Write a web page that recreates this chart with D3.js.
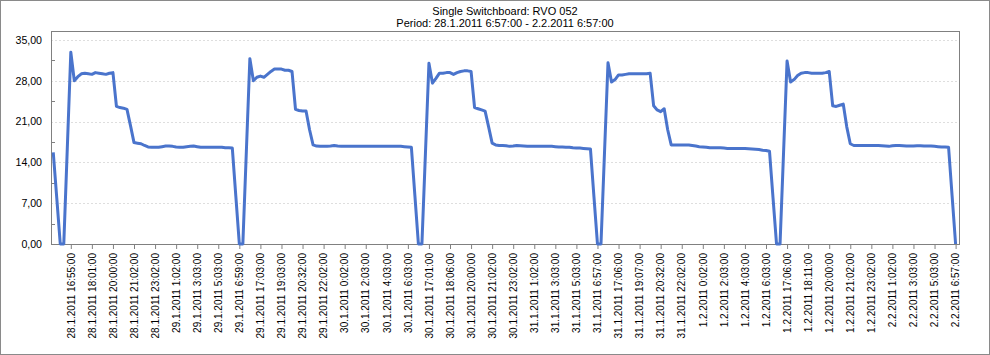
<!DOCTYPE html>
<html><head><meta charset="utf-8">
<script src="https://cdn.jsdelivr.net/npm/d3@7/dist/d3.min.js"></script>
<style>
html,body{margin:0;padding:0;background:#fff;}
svg{display:block;font-family:"Liberation Sans",Arial,sans-serif;}
</style></head>
<body>
<svg id="chart" width="990" height="355"></svg>
<script>
const titleLines = ["Single Switchboard: RVO 052", "Period: 28.1.2011 6:57:00 - 2.2.2011 6:57:00"];

const tickLabels = [
  "28.1.2011 16:55:00","28.1.2011 18:01:00","28.1.2011 20:00:00","28.1.2011 21:02:00","28.1.2011 23:02:00",
  "29.1.2011 1:02:00","29.1.2011 3:03:00","29.1.2011 5:03:00","29.1.2011 6:59:00","29.1.2011 17:03:00",
  "29.1.2011 19:03:00","29.1.2011 20:32:00","29.1.2011 22:02:00","30.1.2011 0:02:00","30.1.2011 2:03:00",
  "30.1.2011 4:03:00","30.1.2011 6:03:00","30.1.2011 17:01:00","30.1.2011 18:06:00","30.1.2011 20:00:00",
  "30.1.2011 21:02:00","30.1.2011 23:02:00","31.1.2011 1:02:00","31.1.2011 3:03:00","31.1.2011 5:03:00",
  "31.1.2011 6:57:00","31.1.2011 17:06:00","31.1.2011 19:07:00","31.1.2011 20:32:00","31.1.2011 22:02:00",
  "1.2.2011 0:02:00","1.2.2011 2:03:00","1.2.2011 4:03:00","1.2.2011 6:03:00","1.2.2011 17:06:00",
  "1.2.2011 18:11:00","1.2.2011 20:00:00","1.2.2011 21:02:00","1.2.2011 23:02:00","2.2.2011 1:02:00",
  "2.2.2011 3:03:00","2.2.2011 5:03:00","2.2.2011 6:57:00"
];
// every 6th sample carries a label, the first label sits on sample 5
const labelEvery = 6;
const labelFirst = 5;

const values = [
  15.7, 7.9, 0, 0, 16.4, 32.9, 28.0, 28.7, 29.2, 29.3,
  29.2, 29.1, 29.4, 29.3, 29.2, 29.1, 29.3, 29.4, 23.6, 23.4,
  23.3, 23.1, 20.3, 17.4, 17.3, 17.2, 16.9, 16.65, 16.6, 16.6,
  16.6, 16.7, 16.8, 16.8, 16.75, 16.65, 16.6, 16.6, 16.7, 16.75,
  16.8, 16.7, 16.6, 16.6, 16.6, 16.6, 16.6, 16.6, 16.6, 16.5,
  16.5, 16.45, 8.2, 0, 0, 15.9, 31.8, 28.0, 28.6, 28.8,
  28.6, 29.1, 29.6, 30.0, 30.0, 30.0, 29.8, 29.8, 29.6, 23.1,
  22.9, 22.8, 22.8, 19.6, 17.0, 16.8, 16.75, 16.75, 16.75, 16.8,
  16.9, 16.8, 16.75, 16.75, 16.75, 16.75, 16.75, 16.75, 16.75, 16.75,
  16.75, 16.75, 16.75, 16.75, 16.75, 16.75, 16.75, 16.75, 16.75, 16.75,
  16.7, 16.65, 16.6, 8.3, 0, 0, 15.5, 31.0, 27.6, 28.4,
  29.3, 29.3, 29.4, 29.4, 29.1, 29.4, 29.6, 29.7, 29.7, 29.6,
  23.4, 23.2, 23.0, 22.8, 20.1, 17.3, 17.0, 16.9, 16.9, 16.85,
  16.75, 16.8, 16.9, 16.85, 16.8, 16.75, 16.75, 16.75, 16.75, 16.75,
  16.75, 16.75, 16.75, 16.7, 16.65, 16.65, 16.6, 16.6, 16.5, 16.45,
  16.45, 16.4, 16.35, 16.3, 8.1, 0, 0, 15.6, 31.1, 27.8,
  28.2, 29.0, 29.0, 29.1, 29.2, 29.2, 29.2, 29.2, 29.2, 29.2,
  29.3, 23.7, 23.0, 22.7, 23.2, 19.6, 17.0, 17.0, 17.0, 17.0,
  17.0, 17.0, 16.9, 16.8, 16.7, 16.65, 16.6, 16.5, 16.5, 16.5,
  16.5, 16.45, 16.4, 16.4, 16.4, 16.4, 16.4, 16.4, 16.35, 16.3,
  16.25, 16.2, 16.1, 16.05, 15.9, 7.9, 0, 0, 15.7, 31.4,
  27.8, 28.2, 28.9, 29.3, 29.4, 29.4, 29.3, 29.3, 29.3, 29.3,
  29.4, 29.6, 23.7, 23.6, 23.8, 24.0, 20.1, 17.2, 16.9, 16.9,
  16.9, 16.9, 16.9, 16.9, 16.9, 16.9, 16.85, 16.8, 16.75, 16.85,
  16.9, 16.9, 16.85, 16.8, 16.8, 16.8, 16.85, 16.85, 16.8, 16.8,
  16.8, 16.75, 16.7, 16.65, 16.65, 16.6, 8.3, 0
];

const yTicks = [0, 7, 14, 21, 28, 35];
const yMinorTicks = [3.5, 10.5, 17.5, 24.5, 31.5];

// ---- layout ----
const W = 990, H = 355;
const plot = {left: 51, top: 31, right: 959, bottom: 244};
const firstX = 53.25, lastX = 955.6;

const svg = d3.select("#chart");

svg.append("rect").attr("x", 0.5).attr("y", 0.5).attr("width", W - 1).attr("height", H - 1)
  .attr("fill", "#fff").attr("stroke", "#8a8a8a");

const idx = d3.range(values.length);
const x = d3.scalePoint().domain(idx).range([firstX, lastX]);
const y = d3.scaleLinear().domain([0, 36.54]).range([plot.bottom, plot.top]);

// title
svg.append("g").selectAll("text").data(titleLines).join("text")
  .attr("x", (plot.left + plot.right) / 2)
  .attr("y", (d, i) => 15 + i * 12)
  .attr("text-anchor", "middle")
  .attr("font-size", "11px")
  .attr("fill", "#000")
  .text(d => d);

// grid
svg.append("g").selectAll("line").data(yTicks.filter(d => d > 0)).join("line")
  .attr("x1", plot.left).attr("x2", plot.right)
  .attr("y1", d => Math.round(y(d)) + 0.5).attr("y2", d => Math.round(y(d)) + 0.5)
  .attr("stroke", "#dedede").attr("stroke-dasharray", "2,2");

// y axis
const yAxis = d3.axisLeft(y).tickValues(yTicks).tickSize(0).tickPadding(9)
  .tickFormat(d => d3.format(".2f")(d).replace(".", ","));
const gy = svg.append("g").attr("transform", `translate(${plot.left},0)`).call(yAxis);
gy.select(".domain").remove();
gy.selectAll("text").attr("font-size", "10.6px").attr("fill", "#000")
  .attr("font-family", '"Liberation Sans",Arial,sans-serif');

// minor ticks inside
svg.append("g").selectAll("line").data(yMinorTicks).join("line")
  .attr("x1", plot.left).attr("x2", plot.left + 4)
  .attr("y1", d => Math.round(y(d)) + 0.5).attr("y2", d => Math.round(y(d)) + 0.5)
  .attr("stroke", "#808080");

// x axis
const labelIdx = tickLabels.map((t, k) => labelFirst + k * labelEvery);
const xAxis = d3.axisBottom(x).tickValues(labelIdx).tickSize(5).tickPadding(3)
  .tickFormat(d => tickLabels[(d - labelFirst) / labelEvery]);
const gx = svg.append("g").attr("transform", `translate(0,${plot.bottom})`).call(xAxis);
gx.select(".domain").remove();
gx.selectAll(".tick line").attr("stroke", "#808080");
gx.selectAll("text")
  .attr("font-size", "10px").attr("fill", "#000")
  .attr("font-family", '"Liberation Sans",Arial,sans-serif')
  .attr("text-anchor", "end")
  .attr("transform", "rotate(-90)")
  .attr("x", -9).attr("y", 0).attr("dy", "0.32em");

// plot frame
svg.append("rect")
  .attr("x", plot.left + 0.5).attr("y", plot.top + 0.5)
  .attr("width", plot.right - plot.left).attr("height", plot.bottom - plot.top)
  .attr("fill", "none").attr("stroke", "#808080");

// line
const line = d3.line().x((d, i) => x(i)).y(d => y(d));
svg.append("path").datum(values)
  .attr("d", line)
  .attr("fill", "none")
  .attr("stroke", "#4a74cc")
  .attr("stroke-width", 3)
  .attr("stroke-linejoin", "round");
</script>
</body></html>
